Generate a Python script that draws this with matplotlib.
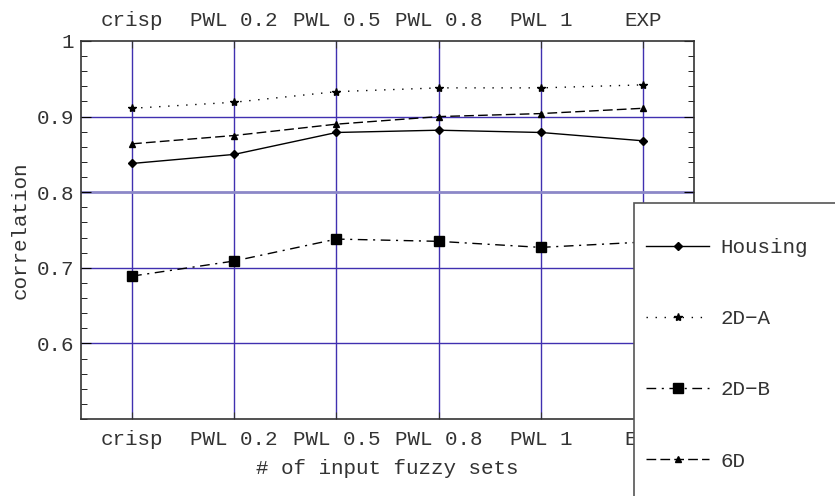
import matplotlib
matplotlib.use("Agg")
import matplotlib.pyplot as plt
from matplotlib.patches import Rectangle
from matplotlib.ticker import MultipleLocator

categories = ["crisp", "PWL 0.2", "PWL 0.5", "PWL 0.8", "PWL 1", "EXP"]
housing = [0.838, 0.850, 0.879, 0.882, 0.879, 0.868]
d2a = [0.911, 0.919, 0.933, 0.938, 0.938, 0.942]
d2b = [0.689, 0.709, 0.738, 0.735, 0.727, 0.734]
d6 = [0.864, 0.875, 0.890, 0.900, 0.904, 0.911]
ytick_vals = [0.6, 0.7, 0.8, 0.9, 1.0]
ytick_labels = ["0.6", "0.7", "0.8", "0.9", "1"]

plt.rcParams['font.family'] = ['Liberation Mono', 'DejaVu Sans Mono']
fs = 15

fig = plt.figure(figsize=(8.35, 4.96), dpi=100)
ax = fig.add_axes([81/835, 1-419/496, (694-81)/835, (419-41)/496])

x = list(range(len(categories)))
grid_c = '#4030b0'
for xi in x:
    ax.axvline(xi, color=grid_c, lw=1.0, zorder=1)
for yv in [0.6, 0.7, 0.9]:
    ax.axhline(yv, color=grid_c, lw=1.0, zorder=1)
ax.axhline(0.8, color='#8c88c8', lw=2.0, zorder=1)

ax.plot(x, housing, color='black', lw=1.0, ls='-', marker='D', ms=3.8, label='Housing', zorder=3)
ax.plot(x, d2a, color='black', lw=1.0, ls=(0, (1, 5.5)), marker='*', ms=6, label='2D\u2212A', zorder=3)
ax.plot(x, d2b, color='black', lw=1.0, ls=(0, (7, 4, 1.5, 4)), marker='s', ms=6.5, label='2D\u2212B', zorder=3)
ax.plot(x, d6, color='black', lw=1.0, ls=(0, (7, 3)), marker='^', ms=5, label='6D', zorder=3)

ax.set_xlim(-0.5, 5.5)
ax.set_ylim(0.5, 1.0)
ax.set_xticks(x)
ax.set_xticklabels(categories, fontsize=fs)
ax.set_yticks(ytick_vals)
ax.set_yticklabels(ytick_labels, fontsize=fs)
ax.yaxis.set_minor_locator(MultipleLocator(0.02))
ax.tick_params(axis='x', which='both', top=True, labeltop=True, bottom=True, direction='in', length=5, pad=8, colors='#333333', labelcolor='#333333')
ax.tick_params(axis='y', which='major', left=True, right=True, direction='in', length=7, pad=5, labelcolor='#333333')
ax.tick_params(axis='y', which='minor', left=True, right=True, direction='in', length=4)
for s in ax.spines.values():
    s.set_color('#333333')
    s.set_linewidth(1.2)

ax.set_xlabel("# of input fuzzy sets", fontsize=fs, color='#333333', labelpad=7)
ax.set_ylabel("correlation", fontsize=fs, color='#333333', labelpad=5)

rect = Rectangle((634/835, -0.1), 1, (496-203)/496 + 0.1, transform=fig.transFigure,
                 facecolor='white', edgecolor='#555555', lw=1.2, zorder=4)
fig.patches.append(rect)
handles, labels = ax.get_legend_handles_labels()
leg = fig.legend(handles, labels, loc='upper left', bbox_to_anchor=(638/835, 1-230/496),
                 frameon=False, fontsize=fs, handlelength=3.0, labelspacing=2.5,
                 handletextpad=0.55, borderaxespad=0)
leg.set_zorder(5)
for t in leg.get_texts():
    t.set_color('#333333')

fig.savefig("out.png", dpi=100)
